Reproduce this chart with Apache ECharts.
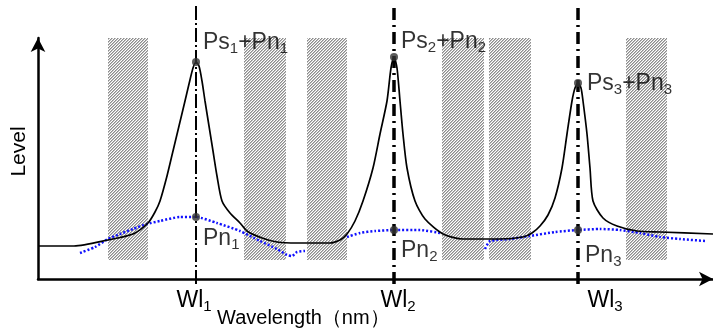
<!DOCTYPE html>
<html><head><meta charset="utf-8">
<script src="https://cdn.jsdelivr.net/npm/echarts@6/dist/echarts.min.js"></script>
<style>html,body{margin:0;padding:0;background:#fff}#c{width:713px;height:331px}</style>
</head><body><div id="c"></div>
<script>
// ---- data (wavelength units, level units) ----
const signalX     = [0,36,70,95,110,117,122,129,135,141,147,151,155,158,161,164,167,171,175,179,184,192,202,209,224,239,259,292,302,309,317,325,335,342,349,353,356,359,362,365,369,377,387,405,425,462,485,494,502,510,517,524,529,534,537,540,543,545,549,552,555,565,579,599,622,675];
const signalLevel = [33,33,39,45,56,67,78,103,128,153,178,195,211,217,213,198,178,153,128,103,78,66,56,48,41,37,36,36,39,45,58,78,111,145,178,211,222,211,178,145,111,78,60,45,40,40,42,46,53,64,81,111,145,178,191,196,191,178,145,111,78,61,53,48,47,45];
const noiseX      = [42,57,70,82,95,109,122,142,158,179,202,222,239,249,254,259,267,288,309,322,337,356,382,402,425,447,452,472,492,517,540,562,582,602,622,642,667];
const noiseLevel  = [26,32,40,45,50,55,58,62,62,56,48,38,30,24,23,27,28,null,42,46,48,49,49,46,null,30,38,40,43,47,49,50,49,46,42,40,38];
const peakWl      = [158,356,540];
const peakLevel   = [217,222,196];
const noiseAtPeak = [62,49,49];
const channelNo   = ['1','2','3'];
const bandStart   = [70,206,269,404,451,588];
const bandEnd     = [110,248,309,446,493,629];
const bandLow = 19, bandHigh = 241;
const xAxisName = 'Wavelength（nm）';
const yAxisName = 'Level';

// ---- helpers ----
function hatchCanvas(){
  const c=document.createElement('canvas'); c.width=3; c.height=3;
  const g=c.getContext('2d');
  g.fillStyle='#fff'; g.fillRect(0,0,3,3);
  for(let i=0;i<3;i++){
    g.fillStyle='#8c8c8c'; g.fillRect(i,2-i,1,1);
    g.fillStyle='#c0c0c0'; g.fillRect((i+1)%3,2-i,1,1);
  }
  return c;
}
const hatch = hatchCanvas();
const FONT = 'Liberation Sans, Arial, sans-serif';
const rich = {
  m:{fontSize:23,fontFamily:FONT,color:'#000',lineHeight:26},
  s:{fontSize:15,fontFamily:FONT,color:'#000',lineHeight:26,padding:[11,0,0,0]}
};

const signalData = signalX.map((x,i)=>[x,signalLevel[i]]);
const noiseData = noiseX.map((x,i)=>[x, noiseLevel[i]==null?'-':noiseLevel[i]]);

const psOffsets=[[0,-19],[0,-15],[2,1]];
const pnOffsets=[[0,22],[0,21],[0,26]];
const psPoints = peakWl.map((x,i)=>({value:[x,peakLevel[i]],
  label:{show:true,position:'right',distance:3,offset:psOffsets[i],
    formatter:'{m|Ps}{s|'+channelNo[i]+'}{m|+Pn}{s|'+channelNo[i]+'}',rich:rich}}));
const pnPoints = peakWl.map((x,i)=>({value:[x,noiseAtPeak[i]],
  label:{show:true,position:'right',distance:3,offset:pnOffsets[i],
    formatter:'{m|Pn}{s|'+channelNo[i]+'}',rich:rich}}));

const wlLabelDx=[-2,4,27];
const chart = echarts.init(document.getElementById('c'),null,{renderer:'canvas'});
chart.setOption({
  animation:false,
  backgroundColor:'#fff',
  grid:{left:38,right:0,top:38,bottom:52,outerBoundsMode:'none',containLabel:false},
  title:{text:xAxisName,left:212,top:303,textStyle:{fontSize:20,fontWeight:'normal',fontFamily:FONT,color:'#000'}},
  xAxis:{type:'value',min:0,max:675,
    axisLine:{show:true,symbol:['none','arrow'],symbolSize:[11,14],lineStyle:{color:'#000',width:2.5}},
    axisTick:{show:false},axisLabel:{show:false},splitLine:{show:false}},
  yAxis:{type:'value',min:0,max:241,name:yAxisName,nameLocation:'middle',nameGap:8,nameRotate:90,
    nameTextStyle:{fontSize:21,fontFamily:FONT,color:'#000',padding:[0,0,0,14]},
    axisLine:{show:true,symbol:['none','arrow'],symbolSize:[11,14],lineStyle:{color:'#000',width:2.5}},
    axisTick:{show:false},axisLabel:{show:false},splitLine:{show:false}},
  series:[
    {type:'custom',z:1,silent:true,data:bandStart.map((s,i)=>[s,bandEnd[i]]),
     renderItem:(p,api)=>{
       const a=api.coord([api.value(0),bandHigh]), b=api.coord([api.value(1),bandLow]);
       return {type:'rect',shape:{x:a[0],y:a[1],width:b[0]-a[0],height:b[1]-a[1]},
               style:{fill:{image:hatch,repeat:'repeat'}}};
     }},
    {type:'line',z:3,data:noiseData,showSymbol:false,smooth:0.2,connectNulls:false,
     lineStyle:{color:'#1010ff',width:2.5,type:[2,2]}},
    {type:'line',z:4,data:signalData,showSymbol:false,smooth:0.25,
     lineStyle:{color:'#000',width:1.7}},
    {type:'custom',z:5,clip:false,silent:true,data:peakWl.map((x,i)=>[x,i]),
     renderItem:(p,api)=>{
       const i=p.dataIndex, x=api.value(0);
       const a=api.coord([x,-5]), b=api.coord([x,273]);
       const z=api.coord([x,0]);
       return {type:'group',children:[
         {type:'line',shape:{x1:a[0],y1:a[1],x2:b[0],y2:b[1]},
          style:{stroke:'#000',lineWidth:i===0?2:3.5,lineDash:i===0?[14,3,2,3]:[12,5,2,5]}},
         {type:'text',x:z[0]+wlLabelDx[i],y:z[1]+22,
          style:{text:'{m|Wl}{s|'+channelNo[i]+'}',rich:rich,align:'center',verticalAlign:'middle'}}
       ]};
     }},
    {type:'scatter',z:6,data:psPoints.concat(pnPoints),symbol:'circle',symbolSize:8,
     itemStyle:{color:'#333'}}
  ]
});
</script></body></html>
